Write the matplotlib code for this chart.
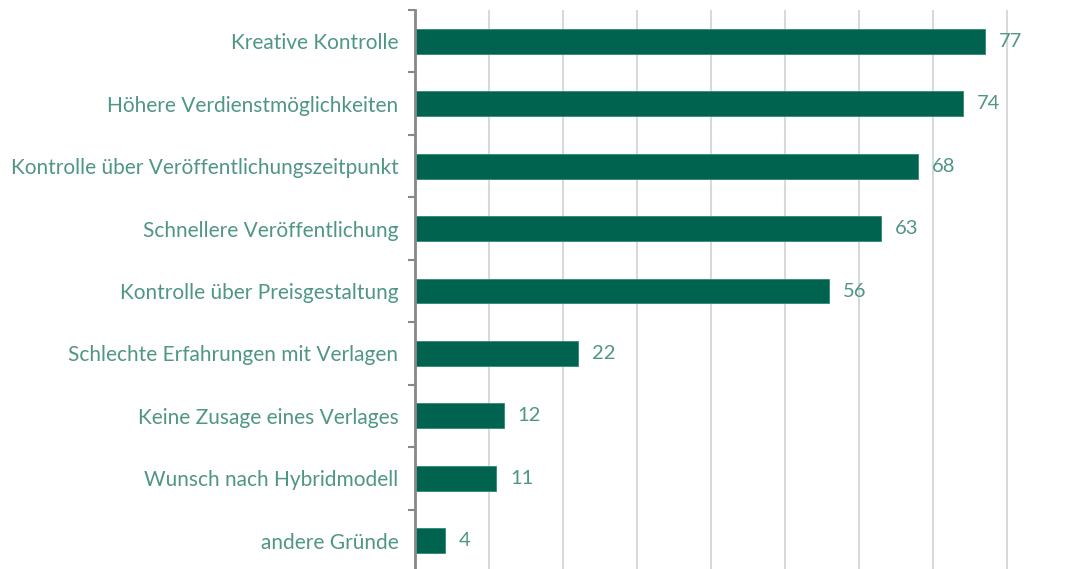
import matplotlib.pyplot as plt
from matplotlib.ticker import FixedLocator, MultipleLocator

categories = [
    "Kreative Kontrolle",
    "Höhere Verdienstmöglichkeiten",
    "Kontrolle über Veröffentlichungszeitpunkt",
    "Schnellere Veröffentlichung",
    "Kontrolle über Preisgestaltung",
    "Schlechte Erfahrungen mit Verlagen",
    "Keine Zusage eines Verlages",
    "Wunsch nach Hybridmodell",
    "andere Gründe",
]
values = [77, 74, 68, 63, 56, 22, 12, 11, 4]

BAR = "#00634f"
TEXT = "#4f9684"

plt.rcParams["font.family"] = ["Lato", "DejaVu Sans"]

fig = plt.figure(figsize=(10.74, 5.69), dpi=100)
ax = fig.add_axes([415 / 1074, -3 / 569, 659 / 1074, 562 / 569])

y = list(range(len(categories)))
ax.barh(y, values, height=0.4, color=BAR, edgecolor="#2e8a72", linewidth=0.6, zorder=3)
for yi, v in zip(y, values):
    ax.annotate(str(v), (v, yi), xytext=(10, 0), textcoords="offset points",
                va="center", ha="left", fontsize=14.5, color=TEXT,
                annotation_clip=False)

ax.set_ylim(len(categories) - 0.5, -0.5)
ax.set_xlim(0, 659 / 7.4)
ax.set_yticks(y)
ax.set_yticklabels(categories, fontsize=15, color=TEXT)
ax.yaxis.set_minor_locator(FixedLocator([i - 0.5 for i in range(len(categories) + 1)]))
ax.tick_params(axis="y", which="major", length=0, pad=12)
ax.tick_params(axis="y", which="minor", length=5, width=1.5, color="#888888")
ax.xaxis.set_major_locator(MultipleLocator(10))
ax.tick_params(axis="x", length=0, labelbottom=False)
ax.grid(True, axis="x", color="#d9d9d9", linewidth=1.5, zorder=0)
for s in ["top", "right", "bottom"]:
    ax.spines[s].set_visible(False)
ax.spines["left"].set_color("#888888")
ax.spines["left"].set_linewidth(2)
ax.spines["left"].set_zorder(4)

fig.savefig("out.png", dpi=100)
